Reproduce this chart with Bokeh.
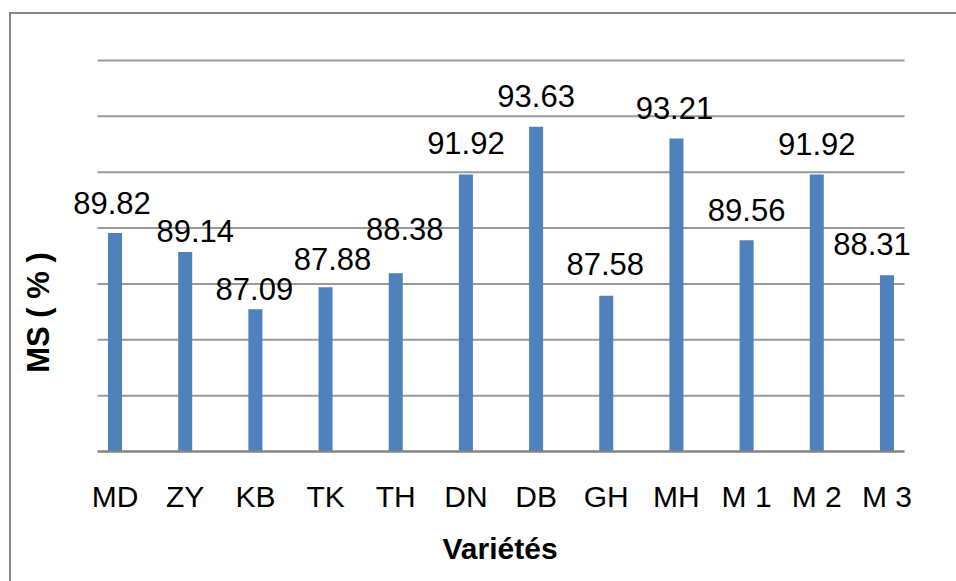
from math import pi

from bokeh.core.properties import value
from bokeh.embed import file_html
from bokeh.models import (ColumnDataSource, FixedTicker, Label, LabelSet,
                          Range1d, Title)
from bokeh.plotting import figure
from bokeh.resources import INLINE

# Dry matter content per variety
varieties = ["MD", "ZY", "KB", "TK", "TH", "DN", "DB", "GH", "MH", "M 1", "M 2", "M 3"]
ms_percent = [89.82, 89.14, 87.09, 87.88, 88.38, 91.92, 93.63, 87.58, 93.21, 89.56, 91.92, 88.31]

# Value axis settings
y_min = 82
y_ticks = [84, 86, 88, 90, 92, 94, 96]

# Small pixel nudges so the value labels do not collide
label_dx = [-3, 10, -1, 7, 9, 0, 0, -1, -2, 0, 0, -15]
label_dy = [19, 10, 9, 17, 33, 20, 20, 21, 19, 19, 19, 20]

FONT = "Liberation Sans"
W, H = 956, 581

# Plot-area geometry in pixels (gridlines run from AREA_L to AREA_R)
AREA_L, AREA_R, AREA_TOP, AREA_BOTTOM = 97, 904, 60, 451
n = len(varieties)
x_lo, x_hi = -0.25, n - 0.75            # category extent of the plot area
px_x = (AREA_R - AREA_L) / (x_hi - x_lo)
px_y = (AREA_BOTTOM - AREA_TOP) / (y_ticks[-1] - y_min)

# The frame spans the whole width so labels near the edges are not clipped
x_start = x_lo - AREA_L / px_x
x_end = x_hi + (W - AREA_R) / px_x
y_end = y_min + AREA_BOTTOM / px_y

idx = list(range(n))
source = ColumnDataSource(dict(
    x=idx,
    top=ms_percent,
    text=[f"{v:.2f}" for v in ms_percent],
    dx=label_dx,
    dy=label_dy,
))

p = figure(
    width=W, height=H,
    x_range=Range1d(x_start, x_end),
    y_range=Range1d(y_min, y_end),
    y_axis_location=None,
    output_backend="svg", toolbar_location=None, tools="",
    min_border_left=0, min_border_right=0,
    min_border_top=0, min_border_bottom=H - AREA_BOTTOM,
)
p.background_fill_color = None
p.border_fill_color = None
p.outline_line_color = None
# Chart-area border (left and top edges) painted behind the transparent canvas
p.styles = {
    "background": (
        "linear-gradient(#878787, #878787) 9px 12px / 2px 100% no-repeat, "
        "linear-gradient(#878787, #878787) 9px 12px / 100% 2px no-repeat, "
        "white"
    ),
}

p.xgrid.visible = False
p.ygrid.visible = False

# Horizontal gridlines limited to the plot area
p.segment(x0=x_lo, x1=x_hi, y0=y_ticks, y1=y_ticks,
          line_color="#9a9a9a", line_width=2)

p.vbar(x="x", top="top", bottom=y_min, width=0.2, source=source,
       fill_color="#4F81BD", line_color=None)

# Category axis
ax = p.xaxis[0]
ax.bounds = (x_lo, x_hi)
ax.ticker = FixedTicker(ticks=idx)
ax.major_label_overrides = {i: name for i, name in enumerate(varieties)}
ax.major_tick_in = 0
ax.major_tick_out = 0
ax.minor_tick_line_color = None
ax.axis_line_color = "#858585"
ax.axis_line_width = 2.5
ax.major_label_text_font = FONT
ax.major_label_text_font_size = "30px"
ax.major_label_text_color = "black"
ax.major_label_standoff = 28

# Horizontal axis title, centred under the plot area
p.add_layout(Title(text="Variétés", align="left", offset=442,
                   text_font=FONT, text_font_size="30px",
                   text_font_style="bold", text_color="black",
                   standoff=28), "below")

# Value labels above the bars
labels = LabelSet(x="x", y="top", text="text", source=source,
                  x_offset="dx", y_offset="dy",
                  text_align="center", text_baseline="alphabetic",
                  text_font=value(FONT), text_font_size=value("31px"),
                  text_color="black")
p.add_layout(labels)

# Vertical axis title
p.add_layout(Label(x=38, y=AREA_BOTTOM - 312, x_units="screen", y_units="screen",
                   text="MS ( % )", angle=pi / 2,
                   text_align="center", text_baseline="middle",
                   text_font=FONT, text_font_size="31px",
                   text_font_style="bold", text_color="black"))

open("out.html", "w").write(file_html(p, INLINE))
